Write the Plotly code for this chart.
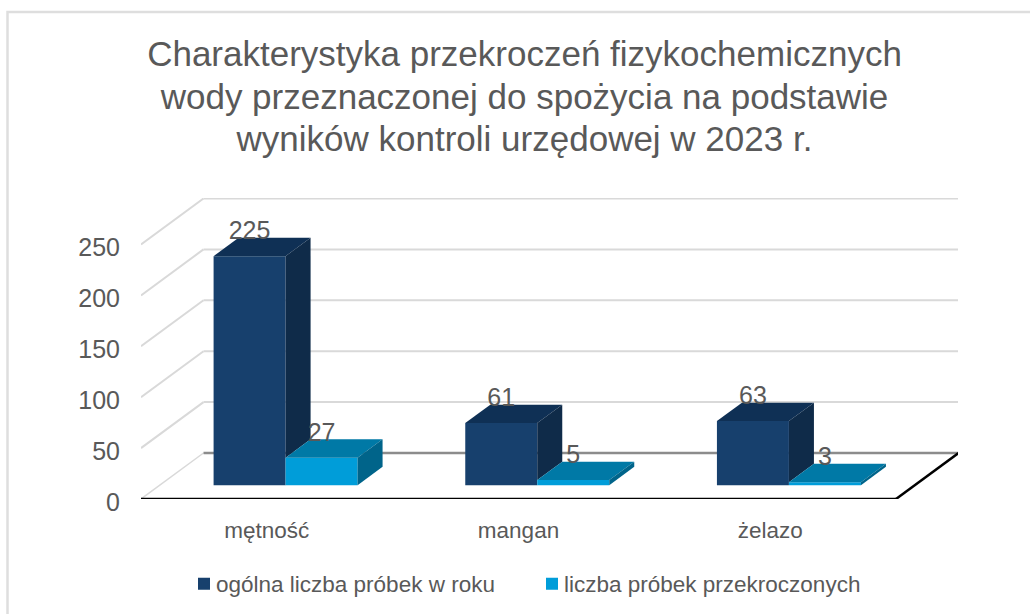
import plotly.graph_objects as go

categories = ["mętność", "mangan", "żelazo"]
total_samples = [225, 61, 63]
exceeded_samples = [27, 5, 3]
y_ticks = [0, 50, 100, 150, 200, 250]
series_names = ["ogólna liczba próbek w roku", "liczba próbek przekroczonych"]
title_lines = [
    "Charakterystyka przekroczeń fizykochemicznych",
    "wody przeznaczonej do spożycia na podstawie",
    "wyników kontroli urzędowej w 2023 r.",
]

W, H = 1030, 614
L, R, T, B = 141, 958, 198, 499
PX_X = 251.67      # pixels per category
PX_Y = 1.018       # pixels per value unit
DX = 62.5 / PX_X   # oblique offset of full depth, in x units
DY = 46 / PX_Y     # oblique offset of full depth, in y units
D0, D1 = 0.30, 0.70  # bar depth start / end
BW = 72 / PX_X     # bar width
FONT = "Liberation Sans"
TXT = "#595959"
GRID = "#D9D9D9"

C_FRONT = ["#17406D", "#009DD9"]
C_TOP = ["#0F3055", "#0079A6"]
C_SIDE = ["#0F2B49", "#00648A"]

fig = go.Figure()


def face(xs, ys, color):
    fig.add_trace(go.Scatter(x=xs, y=ys, mode="lines", fill="toself", fillcolor=color,
                             line=dict(width=0, color=color), showlegend=False, hoverinfo="skip"))


def seg(x0, y0, x1, y1, color, width, layer="below"):
    fig.add_shape(type="line", xref="x", yref="y", x0=x0, y0=y0, x1=x1, y1=y1,
                  line=dict(color=color, width=width), layer=layer)


x_end = len(categories)
# walls
for t in y_ticks[1:]:
    seg(0, t, DX, t + DY, GRID, 2)
    seg(DX, t + DY, x_end + DX, t + DY, GRID, 2)
seg(0, 0, DX, DY, GRID, 1.5)
seg(DX, DY, x_end + DX, DY, "#8C8C8C", 2.5)
seg(0, 0, x_end, 0, "#000000", 2.5)
seg(x_end, 0, x_end + DX, DY, "#000000", 2.5)

base = DY * D0
dx = DX * (D1 - D0)
dy = DY * (D1 - D0)
centers = [i + 0.5 + DX * D0 for i in range(len(categories))]

for s, vals in enumerate([total_samples, exceeded_samples]):
    xs = [c + (s - 0.5) * BW for c in centers]
    fig.add_trace(go.Bar(x=xs, y=vals, base=[base] * len(vals), width=BW, name=series_names[s],
                         marker=dict(color=C_FRONT[s], line=dict(width=0)), hoverinfo="skip"))
    for x, v, i in zip(xs, vals, range(len(vals))):
        x0, x1 = x - BW / 2, x + BW / 2
        top = base + v
        face([x0, x1, x1 + dx, x0 + dx, x0], [top, top, top + dy, top + dy, top], C_TOP[s])
        # dark bar's side stops where the neighbouring bar hides it
        low = base + (exceeded_samples[i] if s == 0 else 0)
        face([x1, x1 + dx, x1 + dx, x1, x1], [top, top + dy, low + dy, low, top], C_SIDE[s])

for s, vals in enumerate([total_samples, exceeded_samples]):
    xs = [c + (s - 0.5) * BW for c in centers]
    fig.add_trace(go.Scatter(x=xs, y=[base + v + 23 for v in vals], mode="text",
                             text=[str(v) for v in vals], textposition="middle center",
                             textfont=dict(family=FONT, size=25, color=TXT),
                             showlegend=False, hoverinfo="skip", cliponaxis=False))

# chart frame (its right edge lies outside the picture)
fig.add_shape(type="rect", xref="paper", yref="paper",
              x0=-(L - 7.5) / (R - L), x1=(1050 - L) / (R - L),
              y0=-(H + 10 - B) / (B - T), y1=(B - 12) / (B - T),
              line=dict(color="#DEDEDE", width=2.5), fillcolor="rgba(0,0,0,0)", layer="below")

fig.update_layout(
    width=W, height=H, autosize=False,
    margin=dict(l=L, r=W - R, t=T, b=H - B, pad=0),
    paper_bgcolor="white", plot_bgcolor="rgba(0,0,0,0)",
    barmode="overlay", showlegend=True,
    font=dict(family=FONT, color=TXT),
    title=dict(text="<br>".join(title_lines), x=524.5 / W, xanchor="center",
               y=1 - 66 / H, yanchor="top", xref="container", yref="container",
               font=dict(family=FONT, size=35, color=TXT)),
    xaxis=dict(range=[0, (R - L) / PX_X], showgrid=False, zeroline=False, showline=False,
               tickmode="array", tickvals=[i + 0.5 for i in range(len(categories))], ticktext=categories,
               ticks="", ticklabelstandoff=15, tickfont=dict(family=FONT, size=22.5, color=TXT)),
    yaxis=dict(range=[0, (B - T) / PX_Y], showgrid=False, zeroline=False, showline=False,
               tickmode="array", tickvals=y_ticks, ticks="", ticklabelstandoff=20, ticklabelshift=3,
               tickfont=dict(family=FONT, size=25, color=TXT)),
    legend=dict(orientation="h", xref="container", yref="container", x=176 / W, xanchor="left",
                y=1 - 584 / H, yanchor="middle", bgcolor="rgba(0,0,0,0)",
                entrywidth=303, entrywidthmode="pixels",
                font=dict(family=FONT, size=22.5, color=TXT), traceorder="normal"),
)

post = """
document.body.style.margin='0';
document.documentElement.style.overflow='hidden';
document.querySelectorAll('.legend .traces .layers').forEach(function(g){g.setAttribute('transform','translate(8,0)');});
document.querySelectorAll('.gtitle tspan.line').forEach(function(t,i){t.setAttribute('dy',(i*42.5)+'px');});
"""
fig.write_html("out.html", config={"displayModeBar": False}, post_script=post)
